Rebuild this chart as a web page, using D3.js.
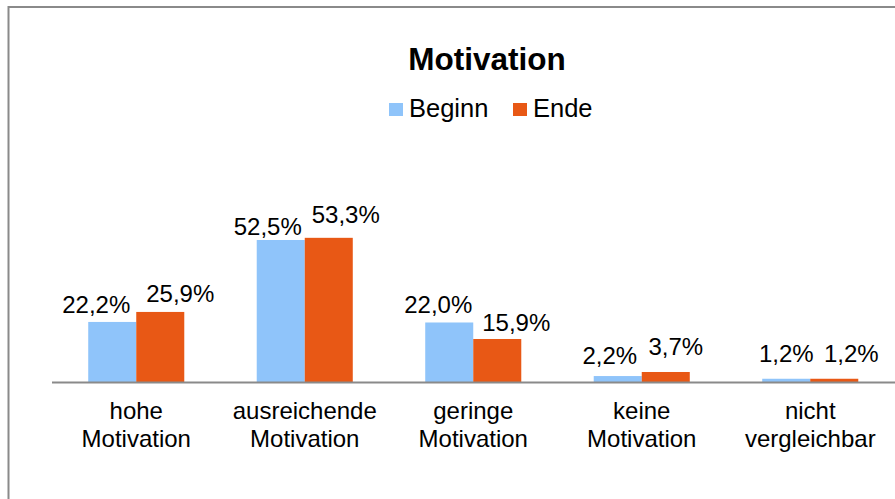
<!DOCTYPE html>
<html>
<head>
<meta charset="utf-8">
<script src="https://cdn.jsdelivr.net/npm/d3@7"></script>
<style>
  body { margin: 0; background: #fff; }
  svg { display: block; font-family: "Liberation Sans", Arial, sans-serif; }
</style>
</head>
<body>
<script>
// Chart data
let categories = ["hohe\nMotivation", "ausreichende\nMotivation", "geringe\nMotivation", "keine\nMotivation", "nicht\nvergleichbar"];
let seriesNames = ["Beginn", "Ende"];
let beginn = [22.2, 52.5, 22.0, 2.2, 1.2];
let ende = [25.9, 53.3, 15.9, 3.7, 1.2];
let colors = ["#8FC4FA", "#E85815"];

// Label nudges (dx, dy from top centre of each bar), as Excel spreads them apart
let nudgeBeginn = [[-16, -9], [-13, -5], [-11, -9], [-8, -12], [0, -17]];
let nudgeEnde = [[20, -10], [17, -15], [19, -8], [10, -17], [17, -17]];

let width = 895, height = 499;
let baseY = 382;

let svg = d3.select("body")
  .append("svg")
    .attr("width", width)
    .attr("height", height);

// Chart frame (cut off at right and bottom)
svg.append("rect")
  .attr("x", 8.5)
  .attr("y", 7)
  .attr("width", 1000)
  .attr("height", 1000)
  .attr("fill", "none")
  .attr("stroke", "#8a8a8a")
  .attr("stroke-width", 2);

let rows = categories.map((c, i) => ({
  cat: c,
  values: [beginn[i], ende[i]],
  nudges: [nudgeBeginn[i], nudgeEnde[i]]
}));

// Scales
let x0 = d3.scaleBand()
  .domain(categories)
  .range([52, 894.5])
  .paddingInner(0.43)
  .paddingOuter(0.215);

let x1 = d3.scaleBand()
  .domain(seriesNames)
  .range([0, x0.bandwidth()]);

let y = d3.scaleLinear()
  .domain([0, 60])
  .range([baseY, baseY - 162.3]);

// Bars
let groups = svg.selectAll("g.grp")
  .data(rows).enter()
  .append("g")
    .attr("class", "grp")
    .attr("transform", (d) => "translate(" + x0(d.cat) + ",0)");

let items = (d) => d.values.map((v, j) => ({ name: seriesNames[j], v: v, j: j, n: d.nudges[j] }));

groups.selectAll("rect")
  .data(items)
  .enter()
  .append("rect")
    .attr("x", (d) => x1(d.name))
    .attr("y", (d) => y(d.v))
    .attr("width", x1.bandwidth())
    .attr("height", (d) => baseY - y(d.v))
    .attr("fill", (d) => colors[d.j]);

// Data labels
groups.selectAll("text.lbl")
  .data(items)
  .enter()
  .append("text")
    .attr("class", "lbl")
    .attr("x", (d) => x1(d.name) + x1.bandwidth() / 2 + d.n[0])
    .attr("y", (d) => y(d.v) + d.n[1])
    .attr("text-anchor", "middle")
    .style("font-size", "24px")
    .attr("fill", "#000")
    .text((d) => d3.format(".1f")(d.v).replace(".", ",") + "%");

// X axis line
let xAxis = svg.append("g")
  .attr("transform", "translate(0," + baseY + ")")
  .call(d3.axisBottom(x0).tickSize(0).tickFormat(""));
xAxis.select(".domain")
  .attr("d", "M52,0.5H895")
  .attr("stroke", "#8a8a8a")
  .attr("stroke-width", 2);

// Category labels (two lines)
svg.selectAll("text.cat")
  .data(categories).enter()
  .append("text")
    .attr("class", "cat")
    .attr("text-anchor", "middle")
    .style("font-size", "24px")
    .attr("fill", "#000")
    .attr("transform", (d) => "translate(" + (x0(d) + x0.bandwidth() / 2) + ",0)")
  .selectAll("tspan")
    .data((d) => d.split("\n")).enter()
    .append("tspan")
      .attr("x", 0)
      .attr("y", (d, i) => 419 + i * 28)
      .text((d) => d);

// Title
svg.append("text")
  .attr("x", 487)
  .attr("y", 70)
  .attr("text-anchor", "middle")
  .style("font-size", "31.5px")
  .style("font-weight", "bold")
  .text("Motivation");

// Legend
let legendX = [389, 513];
let legend = svg.selectAll("g.leg")
  .data(seriesNames).enter()
  .append("g")
    .attr("class", "leg")
    .attr("transform", (d, i) => "translate(" + legendX[i] + ",0)");
legend.append("rect")
  .attr("x", 0)
  .attr("y", 103)
  .attr("width", 14)
  .attr("height", 13)
  .attr("fill", (d, i) => colors[i]);
legend.append("text")
  .attr("x", 20)
  .attr("y", 117)
  .style("font-size", "25.5px")
  .text((d) => d);
</script>
</body>
</html>
